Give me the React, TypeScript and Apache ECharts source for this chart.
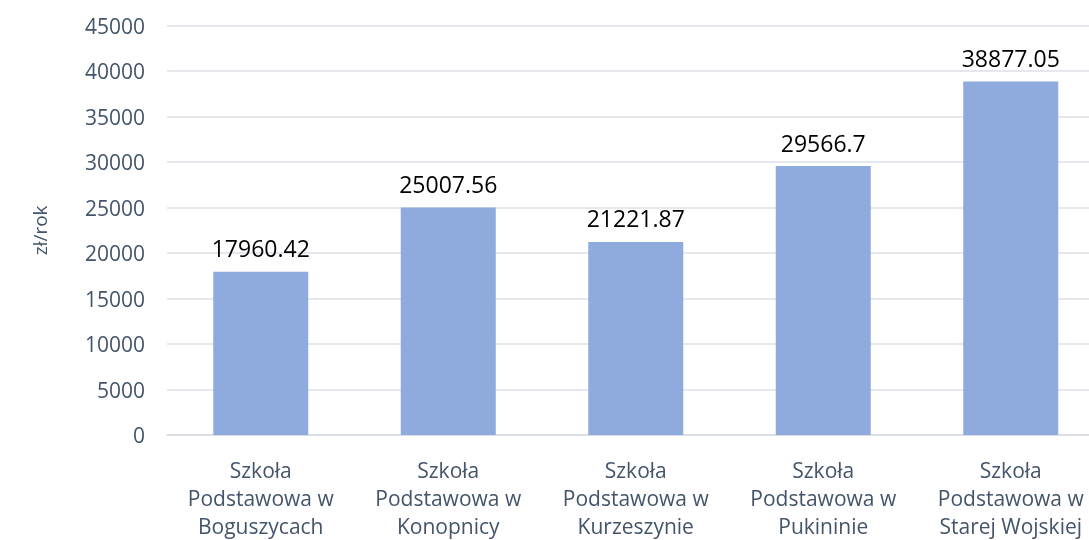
import React, { useEffect, useRef } from "react";
import * as echarts from "echarts";

const categories = [
  "Szkoła\nPodstawowa w\nBoguszycach",
  "Szkoła\nPodstawowa w\nKonopnicy",
  "Szkoła\nPodstawowa w\nKurzeszynie",
  "Szkoła\nPodstawowa w\nPukininie",
  "Szkoła\nPodstawowa w\nStarej Wojskiej",
];
const values = [17960.42, 25007.56, 21221.87, 29566.7, 38877.05];
const yAxisName = "zł/rok";

export default function App() {
  const ref = useRef<HTMLDivElement>(null);
  useEffect(() => {
    const chart = echarts.init(ref.current!, undefined, { renderer: "svg" });
    const font = "'Open Sans', 'Noto Sans', sans-serif";
    chart.setOption({
      animation: false,
      grid: { left: 167, top: 25.7, width: 937.5, height: 412.6, containLabel: false },
      xAxis: {
        type: "category",
        data: categories,
        axisTick: { show: false },
        axisLine: { lineStyle: { color: "#d9dde4", width: 1.5 } },
        axisLabel: {
          color: "#44546a",
          fontFamily: font,
          fontSize: 21,
          lineHeight: 28,
          margin: 21,
          interval: 0,
        },
      },
      yAxis: {
        type: "value",
        min: 0,
        max: 45000,
        interval: 5000,
        name: yAxisName,
        nameLocation: "middle",
        nameGap: 118,
        nameRotate: 90,
        nameTextStyle: { color: "#44546a", fontFamily: font, fontSize: 19 },
        axisLine: { show: false },
        axisTick: { show: false },
        axisLabel: {
          color: "#44546a",
          fontFamily: font,
          fontSize: 21,
          margin: 22,
          formatter: (v: number) => String(v),
        },
        splitLine: { lineStyle: { color: "#dde2ea", width: 1.5 } },
      },
      series: [
        {
          type: "bar",
          data: values,
          barWidth: 95,
          itemStyle: { color: "#8faadc" },
          label: {
            show: true,
            position: "top",
            distance: 12,
            color: "#000000",
            fontFamily: font,
            fontSize: 23,
            formatter: (p: any) => String(p.value),
          },
        },
      ],
    });
    return () => chart.dispose();
  }, []);
  return (
    <div
      ref={ref}
      style={{ position: "fixed", left: 0, top: 0, width: 1120, height: 540 }}
    />
  );
}
